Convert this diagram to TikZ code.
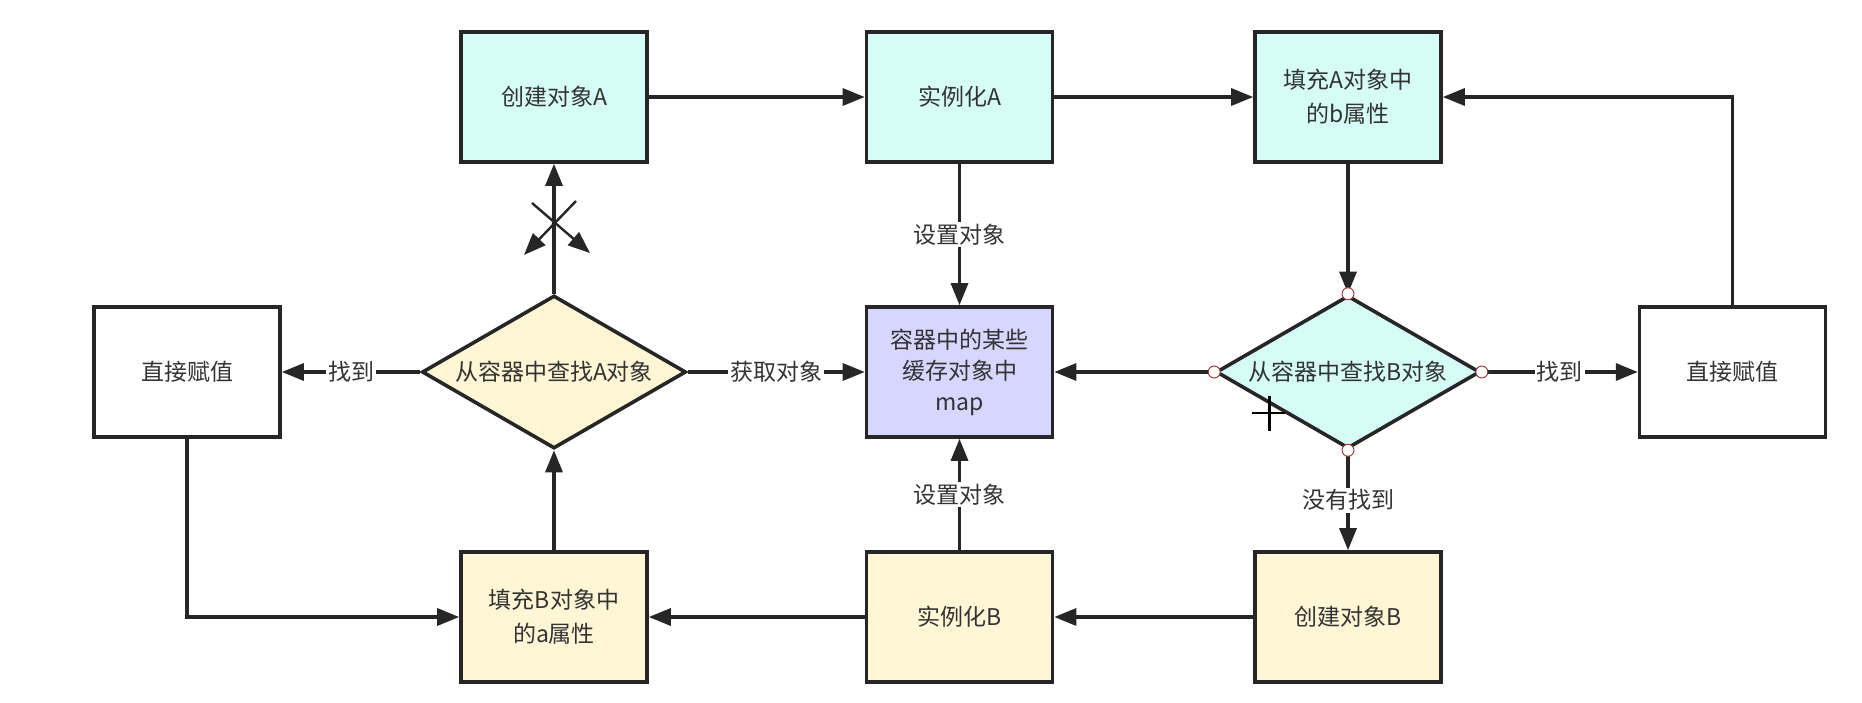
\documentclass[tikz,border=0pt]{standalone}
\usepackage{fontspec}
\newfontfamily\cjk{Noto Sans CJK SC}
\usetikzlibrary{arrows.meta,shapes.geometric}
\definecolor{cfill}{RGB}{214,252,247}
\definecolor{yfill}{RGB}{255,246,214}
\definecolor{mfill}{RGB}{214,214,255}
\definecolor{edge}{RGB}{38,38,38}
\definecolor{txt}{RGB}{51,51,51}
\definecolor{hdl}{RGB}{160,60,60}
\tikzset{
  base/.style={draw=edge, line width=3.6pt, text=txt, align=center,
    font=\cjk\fontsize{23}{34}\selectfont},
  box/.style={base, rectangle, minimum width=186pt, minimum height=130pt, inner sep=0pt},
  boxc/.style={box, fill=cfill},
  boxy/.style={box, fill=yfill},
  boxw/.style={box, fill=white},
  boxm/.style={box, fill=mfill, font=\cjk\fontsize{23}{31}\selectfont},
  dia/.style={base, diamond, minimum width=264pt, minimum height=153pt, inner sep=0pt, aspect=1.725},
  lbl/.style={fill=white, text=txt, inner sep=2pt, font=\cjk\fontsize{23}{26}\selectfont},
  arr/.style={draw=edge, line width=3.2pt, -{Triangle[length=22pt,width=17pt]}},
  handle/.style={circle, draw=hdl, fill=white, line width=1pt, minimum size=12pt, inner sep=0pt}
}
\begin{document}
\begin{tikzpicture}[x=1pt,y=-1pt]
\useasboundingbox (0,0) rectangle (1862,703);
\node[boxc] (cA) at (554,97) {创建对象A};
\node[boxc] (iA) at (959.5,97) {实例化A};
\node[boxc] (fA) at (1348,97) {填充A对象中\\的b属性};
\node[boxw] (lD) at (187,372) {直接赋值};
\node[dia, fill=yfill] (dA) at (554,372) {从容器中查找A对象};
\node[boxm] (map) at (959.5,372) {容器中的某些\\缓存对象中\\map};
\node[dia, fill=cfill] (dB) at (1348,372) {从容器中查找B对象};
\node[boxw] (rD) at (1732.6,372) {直接赋值};
\node[boxy] (fB) at (554,617) {填充B对象中\\的a属性};
\node[boxy] (iB) at (959.5,617) {实例化B};
\node[boxy] (cB) at (1348,617) {创建对象B};

\draw[arr] (cA) -- (iA);
\draw[arr] (iA) -- (fA);
\draw[arr] (fA) -- (dB);
\draw[arr] (iA) -- node[lbl]{设置对象} (map);
\draw[arr] (dB) -- (map);
\draw[arr] (dB) -- node[lbl]{找到} (rD);
\draw[arr] (rD.north) |- (fA.east);
\draw[arr] (dB) -- node[lbl]{没有找到} (cB);
\draw[arr] (cB) -- (iB);
\draw[arr] (iB) -- (fB);
\draw[arr] (iB) -- node[lbl]{设置对象} (map);
\draw[arr] (fB) -- (dA);
\draw[arr] (dA) -- (cA);
\draw[arr] (dA) -- node[lbl]{找到} (lD);
\draw[arr] (dA) -- node[lbl]{获取对象} (map);
\draw[arr] (lD.south) |- (fB.west);

% crossed-out arrows
\coordinate (xa1) at (532,203);
\coordinate (xa2) at (590,253);
\coordinate (xb1) at (576,201);
\coordinate (xb2) at (524,255);
\draw[arr, line width=2.4pt] (xa1) -- (xa2);
\draw[arr, line width=2.4pt] (xb1) -- (xb2);

% selection handles
\node[handle] (h1) at (dB.north) {};
\node[handle] (h2) at (dB.south) {};
\node[handle] (h3) at (dB.east) {};
\node[handle] (h4) at (dB.west) {};

% cursor
\coordinate (cu1) at (1269,396);
\coordinate (cu2) at (1269,431);
\coordinate (cu3) at (1252,413);
\coordinate (cu4) at (1285,413);
\draw[line width=3pt, black] (cu1) -- (cu2);
\draw[line width=2.6pt, black] (cu3) -- (cu4);
\end{tikzpicture}
\end{document}
